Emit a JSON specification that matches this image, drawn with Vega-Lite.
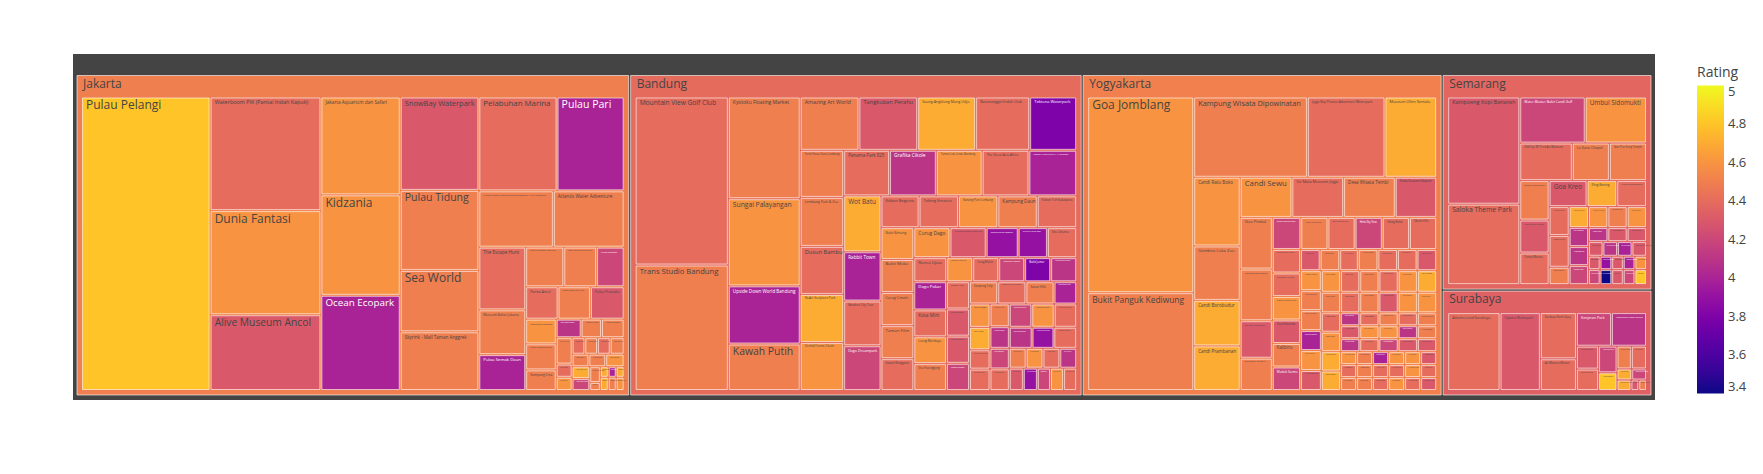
{
"$schema":"https://vega.github.io/schema/vega-lite/v6.json",
"width":1582,"height":346,
"autosize":{"type":"none"},
"padding":{"left":73,"top":54,"right":108,"bottom":74},
"background":"white",
"view":{"fill":"#444444","stroke":null},
"data":{"values":[
{"city":"Jakarta","p":"111","name":"Pulau Pelangi","price":900000,"rating":4.8},
{"city":"Jakarta","p":"1121","name":"Waterboom PIK (Pantai Indah Kapuk)","price":300000,"rating":4.4},
{"city":"Jakarta","p":"1122","name":"Dunia Fantasi","price":275000,"rating":4.6},
{"city":"Jakarta","p":"1123","name":"Alive Museum Ancol","price":200000,"rating":4.3},
{"city":"Jakarta","p":"1131","name":"Jakarta Aquarium dan Safari","price":185000,"rating":4.6},
{"city":"Jakarta","p":"1132","name":"Kidzania","price":190000,"rating":4.6},
{"city":"Jakarta","p":"1133","name":"Ocean Ecopark","price":180000,"rating":4.0},
{"city":"Jakarta","p":"1141","name":"SnowBay Waterpark","price":175000,"rating":4.3},
{"city":"Jakarta","p":"1142","name":"Pulau Tidung","price":150000,"rating":4.5},
{"city":"Jakarta","p":"1143","name":"Sea World","price":115000,"rating":4.5},
{"city":"Jakarta","p":"1144","name":"Skyrink - Mall Taman Anggrek","price":110000,"rating":4.5},
{"city":"Jakarta","p":"11511","name":"Pelabuhan Marina","price":175000,"rating":4.4},
{"city":"Jakarta","p":"11512","name":"Pulau Pari","price":150000,"rating":4.0},
{"city":"Jakarta","p":"11521","name":"Museum Macan (Modern and Contemporary Art in Nusantara)","price":100000,"rating":4.5},
{"city":"Jakarta","p":"11522","name":"Atlantis Water Adventure","price":95000,"rating":4.5},
{"city":"Jakarta","p":"115311","name":"The Escape Hunt","price":70000,"rating":4.4},
{"city":"Jakarta","p":"115312","name":"Museum Bahari Jakarta","price":50000,"rating":4.5},
{"city":"Jakarta","p":"115313","name":"Pulau Semak Daun","price":40000,"rating":4.0},
{"city":"Jakarta","p":"1153211","name":"Taman Mini Indonesia Indah (TMII)","price":36000,"rating":4.5},
{"city":"Jakarta","p":"1153212","name":"Taman Wisata Alam Mangrove Angke","price":31000,"rating":4.5},
{"city":"Jakarta","p":"1153213","name":"Pulau Bidadari","price":26000,"rating":4.2},
{"city":"Jakarta","p":"1153221","name":"Pantai Ancol","price":25000,"rating":4.4},
{"city":"Jakarta","p":"1153222","name":"Taman Impian Jaya Ancol","price":25000,"rating":4.5},
{"city":"Jakarta","p":"1153223","name":"Pulau Pramuka","price":26000,"rating":4.3},
{"city":"Jakarta","p":"11532311","name":"Monumen Nasional","price":18000,"rating":4.6},
{"city":"Jakarta","p":"11532312","name":"Taman Lapangan Banteng","price":19000,"rating":4.5},
{"city":"Jakarta","p":"11532313","name":"Kampung Cina","price":15000,"rating":4.5},
{"city":"Jakarta","p":"115323211","name":"Galeri Nasional Indonesia","price":11000,"rating":4.1},
{"city":"Jakarta","p":"115323212","name":"Museum Wayang","price":9000,"rating":4.5},
{"city":"Jakarta","p":"115323213","name":"Museum Nasional","price":10000,"rating":4.5},
{"city":"Jakarta","p":"1153232211","name":"Museum Layang-layang","price":10000,"rating":4.5},
{"city":"Jakarta","p":"1153232212","name":"Museum Tekstil","price":5000,"rating":4.4},
{"city":"Jakarta","p":"1153232213","name":"Planetarium Jakarta","price":5000,"rating":4.6},
{"city":"Jakarta","p":"11532322211","name":"Museum Sejarah Jakarta","price":5000,"rating":4.4},
{"city":"Jakarta","p":"11532322212","name":"Museum Bank Indonesia","price":5000,"rating":4.5},
{"city":"Jakarta","p":"11532322213","name":"Museum Taman Prasasti","price":5000,"rating":4.4},
{"city":"Jakarta","p":"11532322214","name":"Museum Basoeki Abdullah","price":5500,"rating":4.5},
{"city":"Jakarta","p":"11532322221","name":"Museum Joang 45","price":5000,"rating":4.5},
{"city":"Jakarta","p":"11532322222","name":"Museum Satria Mandala","price":5000,"rating":4.5},
{"city":"Jakarta","p":"11532322223","name":"Setu Babakan","price":5500,"rating":4.6},
{"city":"Jakarta","p":"115323222311","name":"Museum Sumpah Pemuda","price":5000,"rating":4.7},
{"city":"Jakarta","p":"115323222312","name":"Museum Kebangkitan Nasional","price":5000,"rating":4.2},
{"city":"Jakarta","p":"115323222321","name":"Museum Seni Rupa dan Keramik","price":4000,"rating":4.5},
{"city":"Jakarta","p":"115323222322","name":"Museum Polri","price":2000,"rating":4.5},
{"city":"Jakarta","p":"1153232223311","name":"Hutan Kota Srengseng","price":2000,"rating":4.7},
{"city":"Jakarta","p":"1153232223312","name":"Taman Menteng","price":2000,"rating":4.0},
{"city":"Jakarta","p":"1153232223313","name":"Taman Suropati","price":2000,"rating":4.7},
{"city":"Jakarta","p":"1153232223321","name":"Taman Cattleya","price":2500,"rating":4.7},
{"city":"Jakarta","p":"1153232223322","name":"Museum Bank Mandiri","price":2500,"rating":4.5},
{"city":"Jakarta","p":"1153232223323","name":"Taman Situ Lembang","price":2500,"rating":4.6},
{"city":"Bandung","p":"2111","name":"Mountain View Golf Club","price":375000,"rating":4.4},
{"city":"Bandung","p":"2112","name":"Trans Studio Bandung","price":280000,"rating":4.5},
{"city":"Bandung","p":"2121","name":"Kyotoku Floating Market","price":175000,"rating":4.5},
{"city":"Bandung","p":"2122","name":"Sungai Palayangan","price":150000,"rating":4.6},
{"city":"Bandung","p":"2123","name":"Upside Down World Bandung","price":100000,"rating":4.0},
{"city":"Bandung","p":"2124","name":"Kawah Putih","price":80000,"rating":4.5},
{"city":"Bandung","p":"21311","name":"Amazing Art World","price":75000,"rating":4.5},
{"city":"Bandung","p":"21312","name":"Tangkuban Perahu","price":75000,"rating":4.3},
{"city":"Bandung","p":"21313","name":"Saung Angklung Mang Udjo","price":74000,"rating":4.7},
{"city":"Bandung","p":"21314","name":"Batununggal Indah Club","price":69000,"rating":4.4},
{"city":"Bandung","p":"21315","name":"Tektona Waterpark","price":60000,"rating":3.8},
{"city":"Bandung","p":"213211","name":"Farm House Susu Lembang","price":49000,"rating":4.5},
{"city":"Bandung","p":"213212","name":"Lembang Park & Zoo","price":51000,"rating":4.5},
{"city":"Bandung","p":"213213","name":"Dusun Bambu","price":50000,"rating":4.4},
{"city":"Bandung","p":"213214","name":"NuArt Sculpture Park","price":50000,"rating":4.7},
{"city":"Bandung","p":"213215","name":"Orchid Forest Cikole","price":50000,"rating":4.6},
{"city":"Bandung","p":"2132211","name":"Panama Park 825","price":50000,"rating":4.4},
{"city":"Bandung","p":"2132212","name":"Grafika Cikole","price":51000,"rating":4.1},
{"city":"Bandung","p":"2132213","name":"Taman Lalu Lintas Bandung","price":50000,"rating":4.6},
{"city":"Bandung","p":"2132214","name":"The Great Asia Africa","price":51000,"rating":4.4},
{"city":"Bandung","p":"2132215","name":"Taman Hutan Raya Ir. H. Djuanda","price":52000,"rating":4.0},
{"city":"Bandung","p":"21322211","name":"Wot Batu","price":50000,"rating":4.7},
{"city":"Bandung","p":"21322212","name":"Rabbit Town","price":44000,"rating":4.0},
{"city":"Bandung","p":"21322213","name":"Bandros City Tour","price":40000,"rating":4.4},
{"city":"Bandung","p":"21322214","name":"Dago Dreampark","price":40000,"rating":4.2},
{"city":"Bandung","p":"213222211","name":"Kebun Begonia","price":29000,"rating":4.4},
{"city":"Bandung","p":"213222212","name":"Tebing Keraton","price":30000,"rating":4.4},
{"city":"Bandung","p":"213222213","name":"Gunung Putri Lembang","price":30000,"rating":4.6},
{"city":"Bandung","p":"213222214","name":"Kampung Daun","price":30000,"rating":4.5},
{"city":"Bandung","p":"213222215","name":"Kebun Teh Sukawana","price":30000,"rating":4.4},
{"city":"Bandung","p":"2132222211","name":"Bukit Bintang","price":25000,"rating":4.6},
{"city":"Bandung","p":"2132222212","name":"Bukit Moko","price":26000,"rating":4.5},
{"city":"Bandung","p":"2132222213","name":"Curug Cimahi","price":26000,"rating":4.5},
{"city":"Bandung","p":"2132222214","name":"Taman Film","price":26000,"rating":4.5},
{"city":"Bandung","p":"2132222215","name":"Kawah Rengganis","price":25000,"rating":4.4},
{"city":"Bandung","p":"21322222211","name":"Curug Dago","price":26000,"rating":4.6},
{"city":"Bandung","p":"21322222212","name":"Museum Geologi Bandung","price":26000,"rating":4.3},
{"city":"Bandung","p":"21322222213","name":"Observatorium Bosscha","price":23000,"rating":3.9},
{"city":"Bandung","p":"21322222214","name":"Curug Tilu Leuwi Opat","price":21000,"rating":3.9},
{"city":"Bandung","p":"21322222215","name":"Situ Cileunca","price":21000,"rating":4.4},
{"city":"Bandung","p":"21322222221","name":"Ranca Upas","price":19000,"rating":4.4},
{"city":"Bandung","p":"21322222222","name":"Pemandian Air Panas Ciater","price":15000,"rating":4.6},
{"city":"Bandung","p":"21322222223","name":"Curug Malela","price":15000,"rating":4.4},
{"city":"Bandung","p":"21322222224","name":"Museum Sri Baduga","price":15000,"rating":4.2},
{"city":"Bandung","p":"21322222225","name":"Bukit Jamur","price":15000,"rating":3.8},
{"city":"Bandung","p":"21322222226","name":"Glamping Lakeside Rancabali","price":15000,"rating":4.1},
{"city":"Bandung","p":"213222222311","name":"Dago Pakar","price":22000,"rating":4.0},
{"city":"Bandung","p":"213222222312","name":"Kota Mini","price":21000,"rating":4.4},
{"city":"Bandung","p":"213222222313","name":"Curug Maribaya","price":21000,"rating":4.6},
{"city":"Bandung","p":"213222222314","name":"Situ Patenggang","price":21000,"rating":4.5},
{"city":"Bandung","p":"213222222321","name":"Jendela Alam","price":15000,"rating":4.4},
{"city":"Bandung","p":"213222222322","name":"Babakan Siliwangi","price":15000,"rating":4.3},
{"city":"Bandung","p":"213222222323","name":"Museum Pos Indonesia","price":15000,"rating":4.3},
{"city":"Bandung","p":"213222222324","name":"Taman Lansia","price":15000,"rating":4.2},
{"city":"Bandung","p":"2132222223311","name":"Kampung Tulip","price":15000,"rating":4.5},
{"city":"Bandung","p":"2132222223312","name":"Taman Kupu-Kupu Cihanjuang","price":15000,"rating":4.4},
{"city":"Bandung","p":"2132222223313","name":"Sarae Hills","price":15000,"rating":4.5},
{"city":"Bandung","p":"2132222223314","name":"Stone Garden Citatah","price":12000,"rating":4.0},
{"city":"Bandung","p":"21322222233211","name":"Gua Pawon","price":11500,"rating":4.6},
{"city":"Bandung","p":"21322222233212","name":"Pasir Angling","price":11000,"rating":4.7},
{"city":"Bandung","p":"21322222233213","name":"Taman Pustaka Bunga Kota Bandung","price":9500,"rating":4.4},
{"city":"Bandung","p":"21322222233214","name":"Kebun Strawberry Ciwidey","price":10500,"rating":4.4},
{"city":"Bandung","p":"21322222233221","name":"Selasar Sunaryo Art Space","price":10500,"rating":4.5},
{"city":"Bandung","p":"21322222233222","name":"Museum Barli","price":10000,"rating":4.1},
{"city":"Bandung","p":"21322222233223","name":"Galeri Soemardja","price":9500,"rating":4.2},
{"city":"Bandung","p":"21322222233224","name":"Teras Cikapundung BBWS","price":10000,"rating":4.4},
{"city":"Bandung","p":"213222222332311","name":"Kolam Renang Karang Setra","price":12500,"rating":4.2},
{"city":"Bandung","p":"213222222332312","name":"Pemandian Cibolang","price":12500,"rating":4.6},
{"city":"Bandung","p":"213222222332313","name":"Taman Wisata Maribaya","price":12500,"rating":4.4},
{"city":"Bandung","p":"213222222332321","name":"Bukit Teletubbies","price":11500,"rating":4.1},
{"city":"Bandung","p":"213222222332322","name":"Museum Mandala Wangsit Siliwangi","price":11000,"rating":3.9},
{"city":"Bandung","p":"213222222332323","name":"Taman Miniatur Kereta Api","price":11500,"rating":4.4},
{"city":"Bandung","p":"213222222332331","name":"Ciwangun Indah Camp","price":8000,"rating":4.5},
{"city":"Bandung","p":"213222222332332","name":"Curug Panganten","price":8000,"rating":4.6},
{"city":"Bandung","p":"213222222332333","name":"Puncak Bintang","price":8000,"rating":4.4},
{"city":"Bandung","p":"213222222332334","name":"Kiara Artha Park","price":8000,"rating":4.1},
{"city":"Bandung","p":"213222222332341","name":"Pintu Langit Dago","price":7500,"rating":4.3},
{"city":"Bandung","p":"213222222332342","name":"Alun-Alun Kota Bandung","price":7500,"rating":3.9},
{"city":"Bandung","p":"213222222332343","name":"Tafso Barn","price":7000,"rating":4.2},
{"city":"Bandung","p":"213222222332344","name":"Dago Tea House","price":7000,"rating":4.6},
{"city":"Bandung","p":"213222222332345","name":"Cikole Jayagiri Resort","price":7000,"rating":4.4},
{"city":"Yogyakarta","p":"3111","name":"Goa Jomblang","price":500000,"rating":4.6},
{"city":"Yogyakarta","p":"3112","name":"Bukit Panguk Kediwung","price":250000,"rating":4.5},
{"city":"Yogyakarta","p":"31211","name":"Kampung Wisata Dipowinatan","price":220000,"rating":4.5},
{"city":"Yogyakarta","p":"31212","name":"Jogja Bay Pirates Adventure Waterpark","price":150000,"rating":4.4},
{"city":"Yogyakarta","p":"31213","name":"Museum Ullen Sentalu","price":100000,"rating":4.7},
{"city":"Yogyakarta","p":"312211","name":"Candi Ratu Boko","price":77000,"rating":4.6},
{"city":"Yogyakarta","p":"312212","name":"Gembira Loka Zoo","price":61000,"rating":4.5},
{"city":"Yogyakarta","p":"312213","name":"Candi Borobudur","price":51000,"rating":4.7},
{"city":"Yogyakarta","p":"312214","name":"Candi Prambanan","price":50000,"rating":4.7},
{"city":"Yogyakarta","p":"3122211","name":"Candi Sewu","price":50000,"rating":4.6},
{"city":"Yogyakarta","p":"3122212","name":"De Mata Museum Jogja","price":50000,"rating":4.4},
{"city":"Yogyakarta","p":"3122213","name":"Desa Wisata Tembi","price":50000,"rating":4.5},
{"city":"Yogyakarta","p":"3122214","name":"Sindu Kusuma Edupark","price":40000,"rating":4.3},
{"city":"Yogyakarta","p":"31222211","name":"Goa Pindul","price":40000,"rating":4.5},
{"city":"Yogyakarta","p":"31222212","name":"Monumen Jogja Kembali","price":40000,"rating":4.5},
{"city":"Yogyakarta","p":"31222213","name":"The Lost World Castle","price":29000,"rating":4.3},
{"city":"Yogyakarta","p":"31222214","name":"Bukit Bintang Yogyakarta","price":25000,"rating":4.5},
{"city":"Yogyakarta","p":"312222211","name":"Taman Lampion Monjali","price":22000,"rating":4.2},
{"city":"Yogyakarta","p":"312222212","name":"Kids Fun Parcs","price":21000,"rating":4.5},
{"city":"Yogyakarta","p":"312222213","name":"Jogja Exotarium","price":21000,"rating":4.4},
{"city":"Yogyakarta","p":"312222214","name":"Heha Sky View","price":21000,"rating":4.2},
{"city":"Yogyakarta","p":"312222215","name":"Tebing Breksi","price":21000,"rating":4.4},
{"city":"Yogyakarta","p":"312222216","name":"Obelix Hills","price":21000,"rating":4.4},
{"city":"Yogyakarta","p":"3122222211","name":"The World Landmarks - Merapi Park","price":16000,"rating":4.4},
{"city":"Yogyakarta","p":"3122222212","name":"Lava Tour Merapi","price":16000,"rating":4.4},
{"city":"Yogyakarta","p":"3122222213","name":"Museum Gunungapi Merapi","price":16000,"rating":4.6},
{"city":"Yogyakarta","p":"3122222214","name":"Goa Kiskendo","price":16000,"rating":4.3},
{"city":"Yogyakarta","p":"3122222215","name":"Kalibiru","price":16000,"rating":4.5},
{"city":"Yogyakarta","p":"3122222216","name":"Waduk Sermo","price":16000,"rating":4.2},
{"city":"Yogyakarta","p":"31222222211","name":"Air Terjun Sri Gethuk","price":10000,"rating":4.3},
{"city":"Yogyakarta","p":"31222222212","name":"Puncak Becici","price":10000,"rating":4.5},
{"city":"Yogyakarta","p":"31222222213","name":"Hutan Pinus Mangunan","price":9500,"rating":4.4},
{"city":"Yogyakarta","p":"31222222214","name":"Kebun Buah Mangunan","price":10000,"rating":4.5},
{"city":"Yogyakarta","p":"31222222215","name":"Pantai Timang","price":10000,"rating":4.4},
{"city":"Yogyakarta","p":"31222222216","name":"Pantai Indrayanti","price":10000,"rating":4.4},
{"city":"Yogyakarta","p":"31222222217","name":"Taman Pintar","price":10000,"rating":4.3},
{"city":"Yogyakarta","p":"312222222211","name":"Museum Affandi","price":10000,"rating":4.6},
{"city":"Yogyakarta","p":"312222222212","name":"Museum Dirgantara Mandala","price":10000,"rating":4.5},
{"city":"Yogyakarta","p":"312222222213","name":"Benteng Vredeburg","price":10000,"rating":4.5},
{"city":"Yogyakarta","p":"312222222214","name":"Gumuk Pasir Parangkusumo","price":10000,"rating":4.0},
{"city":"Yogyakarta","p":"312222222215","name":"Pantai Parangtritis","price":10000,"rating":4.6},
{"city":"Yogyakarta","p":"312222222216","name":"Museum Sonobudoyo","price":10000,"rating":4.3},
{"city":"Yogyakarta","p":"3122222222211","name":"Pantai Baron","price":10000,"rating":4.6},
{"city":"Yogyakarta","p":"3122222222212","name":"Pantai Krakal","price":10000,"rating":4.4},
{"city":"Yogyakarta","p":"3122222222213","name":"Pantai Kukup","price":10000,"rating":4.5},
{"city":"Yogyakarta","p":"3122222222214","name":"Pantai Sadranan","price":10000,"rating":4.4},
{"city":"Yogyakarta","p":"3122222222215","name":"Pantai Pok Tunggal","price":10000,"rating":4.6},
{"city":"Yogyakarta","p":"3122222222216","name":"Pantai Wediombo","price":10000,"rating":4.7},
{"city":"Yogyakarta","p":"3122222222221","name":"Pantai Siung","price":9500,"rating":4.5},
{"city":"Yogyakarta","p":"3122222222222","name":"Pantai Jogan","price":9500,"rating":4.4},
{"city":"Yogyakarta","p":"3122222222223","name":"Pantai Ngobaran","price":9500,"rating":4.5},
{"city":"Yogyakarta","p":"3122222222224","name":"Pantai Ngrenehan","price":9500,"rating":4.3},
{"city":"Yogyakarta","p":"3122222222225","name":"Pantai Sepanjang","price":9500,"rating":4.6},
{"city":"Yogyakarta","p":"3122222222226","name":"Pantai Drini","price":9500,"rating":4.6},
{"city":"Yogyakarta","p":"31222222222311","name":"Pantai Sundak","price":9000,"rating":4.4},
{"city":"Yogyakarta","p":"31222222222312","name":"Pantai Glagah","price":9000,"rating":4.6},
{"city":"Yogyakarta","p":"31222222222313","name":"Pantai Goa Cemara","price":9000,"rating":4.7},
{"city":"Yogyakarta","p":"31222222222314","name":"Pantai Samas","price":9000,"rating":4.7},
{"city":"Yogyakarta","p":"312222222223211","name":"Bukit Paralayang","price":6000,"rating":4.1},
{"city":"Yogyakarta","p":"312222222223212","name":"Ledok Sambi","price":6000,"rating":4.4},
{"city":"Yogyakarta","p":"312222222223213","name":"Grojogan Watu Purbo","price":6000,"rating":4.5},
{"city":"Yogyakarta","p":"312222222223214","name":"Embung Nglanggeran","price":6000,"rating":4.4},
{"city":"Yogyakarta","p":"312222222223215","name":"Gunung Api Purba Nglanggeran","price":6000,"rating":4.5},
{"city":"Yogyakarta","p":"312222222223221","name":"Desa Wisata Kasongan","price":6000,"rating":4.3},
{"city":"Yogyakarta","p":"312222222223222","name":"Desa Wisata Krebet","price":6000,"rating":4.6},
{"city":"Yogyakarta","p":"312222222223223","name":"Alun-Alun Kidul","price":6000,"rating":4.6},
{"city":"Yogyakarta","p":"312222222223224","name":"Seribu Batu Songgo Langit","price":6000,"rating":4.1},
{"city":"Yogyakarta","p":"312222222223225","name":"Watu Goyang","price":6000,"rating":4.5},
{"city":"Yogyakarta","p":"312222222223231","name":"Pintu Langit Dahromo","price":6000,"rating":4.1},
{"city":"Yogyakarta","p":"312222222223232","name":"Air Terjun Kedung Pedut","price":6000,"rating":4.4},
{"city":"Yogyakarta","p":"312222222223233","name":"Curug Setawing","price":6000,"rating":4.2},
{"city":"Yogyakarta","p":"312222222223234","name":"Puncak Suroloyo","price":6000,"rating":4.3},
{"city":"Yogyakarta","p":"312222222223235","name":"Kebun Teh Nglinggo","price":6000,"rating":4.3},
{"city":"Yogyakarta","p":"312222222223241","name":"Hutan Mangrove Kulon Progo","price":5000,"rating":4.6},
{"city":"Yogyakarta","p":"312222222223242","name":"Goa Rancang Kencono","price":5000,"rating":4.5},
{"city":"Yogyakarta","p":"312222222223243","name":"Embung Batara Sriten","price":5000,"rating":4.0},
{"city":"Yogyakarta","p":"312222222223244","name":"Puthuk Setumbu","price":5000,"rating":4.6},
{"city":"Yogyakarta","p":"312222222223245","name":"Situs Warungboto","price":5000,"rating":4.6},
{"city":"Yogyakarta","p":"312222222223246","name":"Museum Sandi","price":5000,"rating":4.3},
{"city":"Yogyakarta","p":"312222222223251","name":"Museum Batik","price":5000,"rating":4.4},
{"city":"Yogyakarta","p":"312222222223252","name":"Sendang Sono","price":5000,"rating":4.5},
{"city":"Yogyakarta","p":"312222222223253","name":"Hutan Pinus Pengger","price":5000,"rating":4.4},
{"city":"Yogyakarta","p":"312222222223254","name":"Desa Wisata Pentingsari","price":5000,"rating":4.4},
{"city":"Yogyakarta","p":"312222222223255","name":"Museum Tani Jawa Indonesia","price":5000,"rating":4.6},
{"city":"Yogyakarta","p":"312222222223256","name":"Kampung Flory","price":5000,"rating":4.4},
{"city":"Yogyakarta","p":"312222222223261","name":"Pantai Nglambor","price":5000,"rating":4.5},
{"city":"Yogyakarta","p":"312222222223262","name":"Pantai Jungwok","price":5000,"rating":4.5},
{"city":"Yogyakarta","p":"312222222223263","name":"Goa Cerme","price":5000,"rating":4.4},
{"city":"Yogyakarta","p":"312222222223264","name":"Gua Selarong","price":5000,"rating":4.6},
{"city":"Yogyakarta","p":"312222222223265","name":"Bunker Kaliadem Merapi","price":5000,"rating":4.4},
{"city":"Yogyakarta","p":"312222222223266","name":"Taman Budaya Yogyakarta","price":5000,"rating":4.3},
{"city":"Semarang","p":"4111","name":"Kampoeng Kopi Banaran","price":200000,"rating":4.3},
{"city":"Semarang","p":"4112","name":"Saloka Theme Park","price":150000,"rating":4.4},
{"city":"Semarang","p":"41211","name":"Water Blaster Bukit Candi Golf","price":78000,"rating":4.2},
{"city":"Semarang","p":"41212","name":"Umbul Sidomukti","price":73000,"rating":4.6},
{"city":"Semarang","p":"41221","name":"Old City 3D Trick Art Museum","price":51000,"rating":4.4},
{"city":"Semarang","p":"41222","name":"La Kana Chapel","price":36000,"rating":4.5},
{"city":"Semarang","p":"41223","name":"Sam Poo Kong Temple","price":36000,"rating":4.5},
{"city":"Semarang","p":"412311","name":"Grand Maerakaca","price":30000,"rating":4.5},
{"city":"Semarang","p":"412312","name":"Taman Bunga Celosia","price":25000,"rating":4.3},
{"city":"Semarang","p":"412313","name":"Pantai Marina","price":24000,"rating":4.4},
{"city":"Semarang","p":"4123211","name":"Goa Kreo","price":25500,"rating":4.3},
{"city":"Semarang","p":"4123212","name":"Eling Bening","price":20000,"rating":4.7},
{"city":"Semarang","p":"4123213","name":"Museum Ronggowarsito","price":20000,"rating":4.4},
{"city":"Semarang","p":"41232211","name":"Kebun Binatang Mangkang","price":15000,"rating":4.4},
{"city":"Semarang","p":"41232212","name":"Brown Canyon","price":16500,"rating":4.4},
{"city":"Semarang","p":"41232213","name":"Taman Srigunting","price":9000,"rating":4.5},
{"city":"Semarang","p":"412322211","name":"Agrowisata Kebun Teh Medini","price":10500,"rating":4.7},
{"city":"Semarang","p":"412322212","name":"Museum Kereta Api Ambarawa","price":10500,"rating":4.6},
{"city":"Semarang","p":"412322213","name":"Candi Gedong Songo","price":10500,"rating":4.5},
{"city":"Semarang","p":"412322214","name":"Bukit Cinta Rawa Pening","price":10500,"rating":4.6},
{"city":"Semarang","p":"4123222211","name":"Puri Maerokoco","price":9500,"rating":4.1},
{"city":"Semarang","p":"4123222212","name":"Wonderia","price":9500,"rating":4.1},
{"city":"Semarang","p":"4123222213","name":"Taman Lele","price":9500,"rating":4.2},
{"city":"Semarang","p":"41232222211","name":"Pantai Tirang","price":7000,"rating":4.1},
{"city":"Semarang","p":"41232222212","name":"Curug Lawe Benowo","price":7000,"rating":4.3},
{"city":"Semarang","p":"41232222213","name":"Kampung Pelangi","price":7000,"rating":4.3},
{"city":"Semarang","p":"41232222221","name":"Museum Mandala Bhakti","price":5500,"rating":4.3},
{"city":"Semarang","p":"41232222222","name":"Desa Wisata Lembah Kalipancur","price":5500,"rating":4.1},
{"city":"Semarang","p":"41232222223","name":"Hutan Wisata Tinjomoyo","price":5500,"rating":4.0},
{"city":"Semarang","p":"41232222224","name":"Pagoda Avalokitesvara Buddhagaya Watugong","price":5500,"rating":4.3},
{"city":"Semarang","p":"41232222231","name":"Taman Indonesia Kaya","price":4000,"rating":4.3},
{"city":"Semarang","p":"41232222232","name":"Museum Jamu Nyonya Meneer","price":4000,"rating":3.9},
{"city":"Semarang","p":"41232222233","name":"Semarang Contemporary Art Gallery","price":4000,"rating":4.3},
{"city":"Semarang","p":"41232222234","name":"Kolam Renang Paradise Club","price":4000,"rating":4.0},
{"city":"Semarang","p":"41232222235","name":"Wana Wisata Penggaron","price":4000,"rating":4.6},
{"city":"Semarang","p":"41232222241","name":"Goa Maria Kerep Ambarawa","price":4500,"rating":4.2},
{"city":"Semarang","p":"41232222242","name":"Tugu Muda Semarang","price":4500,"rating":3.4},
{"city":"Semarang","p":"41232222243","name":"Pantai Baruna","price":4500,"rating":4.3},
{"city":"Semarang","p":"41232222244","name":"Klenteng Tay Kak Sie","price":4500,"rating":4.2},
{"city":"Semarang","p":"41232222245","name":"Gereja Blenduk","price":4500,"rating":4.8},
{"city":"Surabaya","p":"421","name":"Atlantis Land Surabaya","price":125000,"rating":4.4},
{"city":"Surabaya","p":"422","name":"Ciputra Waterpark","price":96000,"rating":4.3},
{"city":"Surabaya","p":"4231","name":"Surabaya North Quay","price":51000,"rating":4.4},
{"city":"Surabaya","p":"4232","name":"Air Mancur Menari","price":35000,"rating":4.4},
{"city":"Surabaya","p":"42411","name":"Kenjeran Park","price":36000,"rating":4.2},
{"city":"Surabaya","p":"42412","name":"Monumen Kapal Selam","price":36000,"rating":4.1},
{"city":"Surabaya","p":"424211","name":"Kebun Binatang Surabaya","price":15500,"rating":4.3},
{"city":"Surabaya","p":"424212","name":"Taman Hiburan Pantai Kenjeran","price":14500,"rating":4.4},
{"city":"Surabaya","p":"424221","name":"Museum Pendidikan Surabaya","price":15000,"rating":4.2},
{"city":"Surabaya","p":"424222","name":"Hutan Bambu","price":10000,"rating":4.8},
{"city":"Surabaya","p":"4242311","name":"Museum Sepuluh Nopember","price":10000,"rating":4.5},
{"city":"Surabaya","p":"4242312","name":"Taman Flora Bratang","price":10500,"rating":4.4},
{"city":"Surabaya","p":"4242321","name":"Pantai Ria Kenjeran","price":5000,"rating":4.7},
{"city":"Surabaya","p":"4242322","name":"Museum Kesehatan Dr. Adhyatma","price":5000,"rating":4.2},
{"city":"Surabaya","p":"4242331","name":"Food Junction Grand Pakuwon","price":4500,"rating":4.7},
{"city":"Surabaya","p":"4242332","name":"Taman Bungkul","price":2500,"rating":4.3},
{"city":"Surabaya","p":"4242333","name":"Taman Harmoni Keputih","price":2500,"rating":4.5}
]},
"transform":[
{"calculate":"pad(datum.p,15,'0','right')","as":"pp"},
{"window":[{"op":"sum","field":"price","as":"cum"}],"sort":[{"field":"pp","order":"ascending"}],"frame":[null,0]},
{"calculate":"datum.cum-datum.price","as":"c0"},
{"joinaggregate":[{"op":"sum","field":"price","as":"s0"}]},
{"calculate":"substring(datum.pp,0,1)","as":"k1"},
{"joinaggregate":[{"op":"sum","field":"price","as":"s1"},{"op":"min","field":"c0","as":"b1"}],"groupby":["k1"]},
{"calculate":"substring(datum.pp,0,2)","as":"k2"},
{"joinaggregate":[{"op":"sum","field":"price","as":"s2"},{"op":"min","field":"c0","as":"b2"}],"groupby":["k2"]},
{"calculate":"substring(datum.pp,0,3)","as":"k3"},
{"joinaggregate":[{"op":"sum","field":"price","as":"s3"},{"op":"min","field":"c0","as":"b3"}],"groupby":["k3"]},
{"calculate":"substring(datum.pp,0,4)","as":"k4"},
{"joinaggregate":[{"op":"sum","field":"price","as":"s4"},{"op":"min","field":"c0","as":"b4"}],"groupby":["k4"]},
{"calculate":"substring(datum.pp,0,5)","as":"k5"},
{"joinaggregate":[{"op":"sum","field":"price","as":"s5"},{"op":"min","field":"c0","as":"b5"}],"groupby":["k5"]},
{"calculate":"substring(datum.pp,0,6)","as":"k6"},
{"joinaggregate":[{"op":"sum","field":"price","as":"s6"},{"op":"min","field":"c0","as":"b6"}],"groupby":["k6"]},
{"calculate":"substring(datum.pp,0,7)","as":"k7"},
{"joinaggregate":[{"op":"sum","field":"price","as":"s7"},{"op":"min","field":"c0","as":"b7"}],"groupby":["k7"]},
{"calculate":"substring(datum.pp,0,8)","as":"k8"},
{"joinaggregate":[{"op":"sum","field":"price","as":"s8"},{"op":"min","field":"c0","as":"b8"}],"groupby":["k8"]},
{"calculate":"substring(datum.pp,0,9)","as":"k9"},
{"joinaggregate":[{"op":"sum","field":"price","as":"s9"},{"op":"min","field":"c0","as":"b9"}],"groupby":["k9"]},
{"calculate":"substring(datum.pp,0,10)","as":"k10"},
{"joinaggregate":[{"op":"sum","field":"price","as":"s10"},{"op":"min","field":"c0","as":"b10"}],"groupby":["k10"]},
{"calculate":"substring(datum.pp,0,11)","as":"k11"},
{"joinaggregate":[{"op":"sum","field":"price","as":"s11"},{"op":"min","field":"c0","as":"b11"}],"groupby":["k11"]},
{"calculate":"substring(datum.pp,0,12)","as":"k12"},
{"joinaggregate":[{"op":"sum","field":"price","as":"s12"},{"op":"min","field":"c0","as":"b12"}],"groupby":["k12"]},
{"calculate":"substring(datum.pp,0,13)","as":"k13"},
{"joinaggregate":[{"op":"sum","field":"price","as":"s13"},{"op":"min","field":"c0","as":"b13"}],"groupby":["k13"]},
{"calculate":"substring(datum.pp,0,14)","as":"k14"},
{"joinaggregate":[{"op":"sum","field":"price","as":"s14"},{"op":"min","field":"c0","as":"b14"}],"groupby":["k14"]},
{"calculate":"3+1576*datum.b1/datum.s0","as":"X1a"},
{"calculate":"3+1576*(datum.b1+datum.s1)/datum.s0","as":"X1b"},
{"calculate":"20.5+321.5*(datum.b2-datum.b1)/datum.s1","as":"Y2a"},
{"calculate":"20.5+321.5*(datum.b2-datum.b1+datum.s2)/datum.s1","as":"Y2b"},
{"calculate":"datum.X1a+5.5","as":"Xc0"},
{"calculate":"datum.X1b-5.5","as":"Xc1"},
{"calculate":"datum.Y2a+22.5","as":"Yc0"},
{"calculate":"datum.Y2b-5.5","as":"Yc1"},
{"calculate":"datum.Xc0+(datum.Xc1-datum.Xc0)*(datum.b3-datum.b2)/datum.s2","as":"X3a"},
{"calculate":"datum.Xc0+(datum.Xc1-datum.Xc0)*(datum.b3-datum.b2+datum.s3)/datum.s2","as":"X3b"},
{"calculate":"datum.Yc0+(datum.Yc1-datum.Yc0)*(datum.b4-datum.b3)/datum.s3","as":"Y4a"},
{"calculate":"datum.Yc0+(datum.Yc1-datum.Yc0)*(datum.b4-datum.b3+datum.s4)/datum.s3","as":"Y4b"},
{"calculate":"datum.X3a+(datum.X3b-datum.X3a)*(datum.b5-datum.b4)/datum.s4","as":"X5a"},
{"calculate":"datum.X3a+(datum.X3b-datum.X3a)*(datum.b5-datum.b4+datum.s5)/datum.s4","as":"X5b"},
{"calculate":"datum.Y4a+(datum.Y4b-datum.Y4a)*(datum.b6-datum.b5)/datum.s5","as":"Y6a"},
{"calculate":"datum.Y4a+(datum.Y4b-datum.Y4a)*(datum.b6-datum.b5+datum.s6)/datum.s5","as":"Y6b"},
{"calculate":"datum.X5a+(datum.X5b-datum.X5a)*(datum.b7-datum.b6)/datum.s6","as":"X7a"},
{"calculate":"datum.X5a+(datum.X5b-datum.X5a)*(datum.b7-datum.b6+datum.s7)/datum.s6","as":"X7b"},
{"calculate":"datum.Y6a+(datum.Y6b-datum.Y6a)*(datum.b8-datum.b7)/datum.s7","as":"Y8a"},
{"calculate":"datum.Y6a+(datum.Y6b-datum.Y6a)*(datum.b8-datum.b7+datum.s8)/datum.s7","as":"Y8b"},
{"calculate":"datum.X7a+(datum.X7b-datum.X7a)*(datum.b9-datum.b8)/datum.s8","as":"X9a"},
{"calculate":"datum.X7a+(datum.X7b-datum.X7a)*(datum.b9-datum.b8+datum.s9)/datum.s8","as":"X9b"},
{"calculate":"datum.Y8a+(datum.Y8b-datum.Y8a)*(datum.b10-datum.b9)/datum.s9","as":"Y10a"},
{"calculate":"datum.Y8a+(datum.Y8b-datum.Y8a)*(datum.b10-datum.b9+datum.s10)/datum.s9","as":"Y10b"},
{"calculate":"datum.X9a+(datum.X9b-datum.X9a)*(datum.b11-datum.b10)/datum.s10","as":"X11a"},
{"calculate":"datum.X9a+(datum.X9b-datum.X9a)*(datum.b11-datum.b10+datum.s11)/datum.s10","as":"X11b"},
{"calculate":"datum.Y10a+(datum.Y10b-datum.Y10a)*(datum.b12-datum.b11)/datum.s11","as":"Y12a"},
{"calculate":"datum.Y10a+(datum.Y10b-datum.Y10a)*(datum.b12-datum.b11+datum.s12)/datum.s11","as":"Y12b"},
{"calculate":"datum.X11a+(datum.X11b-datum.X11a)*(datum.b13-datum.b12)/datum.s12","as":"X13a"},
{"calculate":"datum.X11a+(datum.X11b-datum.X11a)*(datum.b13-datum.b12+datum.s13)/datum.s12","as":"X13b"},
{"calculate":"datum.Y12a+(datum.Y12b-datum.Y12a)*(datum.b14-datum.b13)/datum.s13","as":"Y14a"},
{"calculate":"datum.Y12a+(datum.Y12b-datum.Y12a)*(datum.b14-datum.b13+datum.s14)/datum.s13","as":"Y14b"},
{"calculate":"datum.X13a+(datum.X13b-datum.X13a)*(datum.c0-datum.b14)/datum.s14","as":"X15a"},
{"calculate":"datum.X13a+(datum.X13b-datum.X13a)*(datum.c0-datum.b14+datum.price)/datum.s14","as":"X15b"}
],
"layer":[
{
"transform":[
{"calculate":"datum.price*datum.rating","as":"pr"},
{"aggregate":[{"op":"min","field":"X1a","as":"ux0"},{"op":"max","field":"X1b","as":"ux1"},{"op":"min","field":"Y2a","as":"uy0"},{"op":"max","field":"Y2b","as":"uy1"},{"op":"sum","field":"pr","as":"spr"},{"op":"sum","field":"price","as":"sp"}],"groupby":["city"]},
{"calculate":"datum.spr/datum.sp","as":"rating"}
],
"mark":{"type":"rect","xOffset":1,"x2Offset":-1,"yOffset":1,"y2Offset":-1,"stroke":"#ffffff","strokeOpacity":0.6,"strokeWidth":1},
"encoding":{
"x":{"field":"ux0","type":"quantitative","scale":{"domain":[0,1582],"nice":false,"zero":false},"axis":null},
"x2":{"field":"ux1"},
"y":{"field":"uy0","type":"quantitative","scale":{"domain":[0,346],"nice":false,"zero":false,"reverse":true},"axis":null},
"y2":{"field":"uy1"},
"color":{"field":"rating","type":"quantitative","scale":{"scheme":"plasma","domain":[3.4,5]}}
}
},
{
"transform":[
{"aggregate":[{"op":"min","field":"X1a","as":"ux0"},{"op":"min","field":"Y2a","as":"uy0"}],"groupby":["city"]}
],
"mark":{"type":"text","align":"left","baseline":"top","dx":7,"dy":4,"fontSize":12,"font":"Open Sans","color":"#444444"},
"encoding":{
"x":{"field":"ux0","type":"quantitative"},
"y":{"field":"uy0","type":"quantitative"},
"text":{"field":"city"}
}
},
{
"mark":{"type":"rect","xOffset":1,"x2Offset":-1,"yOffset":1,"y2Offset":-1,"stroke":"#ffffff","strokeOpacity":0.6,"strokeWidth":1},
"encoding":{
"x":{"field":"X15a","type":"quantitative"},
"x2":{"field":"X15b"},
"y":{"field":"Y14a","type":"quantitative"},
"y2":{"field":"Y14b"},
"color":{"field":"rating","type":"quantitative","scale":{"scheme":"plasma","domain":[3.4,5]},
"legend":{"title":"Rating","orient":"none","legendX":1624,"legendY":11.5,"direction":"vertical","gradientLength":308,"gradientThickness":27,"values":[3.4,3.6,3.8,4,4.2,4.4,4.6,4.8,5],"labelExpr":"datum.value","labelFontSize":13,"labelColor":"#444444","labelFont":"Open Sans","titleFont":"Open Sans","titleFontSize":14,"titleFontWeight":"normal","titleColor":"#444444","titlePadding":6,"labelOffset":4,"gradientStrokeWidth":0,"labelBaseline":"middle","labelOverlap":false}}
}
},
{
"transform":[
{"calculate":"datum.X15b-datum.X15a","as":"cw"},
{"calculate":"datum.Y14b-datum.Y14a","as":"ch"},
{"calculate":"min(4.5,datum.cw*0.25)","as":"pad"},
{"calculate":"datum.X15a+datum.pad","as":"tx"},
{"calculate":"datum.Y14a+min(3,datum.ch*0.2)","as":"ty"},
{"calculate":"max(0.8,min(12,(datum.cw-2*datum.pad)/(length(datum.name)*0.55),datum.ch*0.55))","as":"fs"}
],
"mark":{"type":"text","align":"left","baseline":"top","font":"Open Sans"},
"encoding":{
"x":{"field":"tx","type":"quantitative"},
"y":{"field":"ty","type":"quantitative"},
"text":{"field":"name"},
"size":{"field":"fs","type":"quantitative","scale":null,"legend":null},
"color":{"condition":{"test":"datum.rating<=4.2","value":"#ffffff"},"value":"#444444"}
}
}
]
}
